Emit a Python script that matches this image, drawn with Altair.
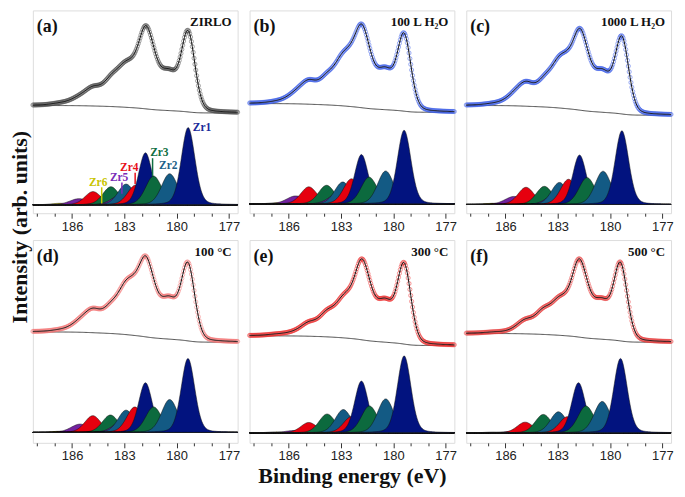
import altair as alt
import numpy as np
import pandas as pd

# ---------------- data ----------------
PANEL_TAGS = ["(a)", "(b)", "(c)", "(d)", "(e)", "(f)"]
SAMPLES = ["ZIRLO", "100 L H\u2082O", "1000 L H\u2082O", "100 \u00b0C", "300 \u00b0C", "500 \u00b0C"]
COMPONENTS = ["Zr1", "Zr2", "Zr3", "Zr4", "Zr5", "Zr6"]

# peak positions (eV) of the Zr 3d5/2 and 3d3/2 lines, panels a..f
POS_52 = {
    "Zr1": [179.34, 179.38, 179.32, 179.35, 179.38, 179.40],
    "Zr2": [180.40, 180.44, 180.40, 180.40, 180.44, 180.45],
    "Zr3": [181.32, 181.39, 181.32, 181.32, 181.37, 181.38],
    "Zr4": [182.35, 182.40, 182.38, 182.40, 182.40, 182.44],
    "Zr5": [183.18, 183.13, 183.09, 183.09, 183.10, 183.10],
    "Zr6": [184.30, 184.30, 184.30, 184.30, 184.30, 184.30],
}
POS_32 = {
    "Zr1": [181.79, 181.83, 181.75, 181.79, 181.83, 181.81],
    "Zr2": [182.90, 182.90, 182.90, 182.90, 182.87, 182.96],
    "Zr3": [183.77, 183.83, 183.77, 183.80, 183.80, 183.83],
    "Zr4": [184.80, 184.85, 184.82, 184.81, 184.85, 184.87],
    "Zr5": [185.60, 185.60, 185.50, 185.54, 185.69, 185.60],
    "Zr6": [186.70, 186.70, 186.70, 186.70, 186.70, 186.70],
}
# peak heights (arb. units)
HEIGHT_52 = {
    "Zr1": [79.6, 76.0, 76.0, 76.3, 79.4, 76.7],
    "Zr2": [32.0, 34.0, 34.3, 34.0, 35.0, 32.4],
    "Zr3": [29.6, 27.7, 27.7, 26.3, 27.7, 27.7],
    "Zr4": [20.3, 26.0, 26.0, 26.3, 16.7, 16.7],
    "Zr5": [10.3, 11.7, 11.0, 12.3, 3.4, 2.0],
    "Zr6": [2.0, 1.5, 1.5, 1.5, 1.0, 1.0],
}
HEIGHT_32 = {
    "Zr1": [53.6, 51.0, 51.0, 51.3, 53.4, 51.7],
    "Zr2": [21.3, 22.7, 22.7, 23.0, 24.0, 21.7],
    "Zr3": [18.6, 19.3, 18.7, 18.0, 19.4, 19.0],
    "Zr4": [13.6, 17.7, 17.7, 17.3, 10.7, 11.0],
    "Zr5": [6.3, 8.3, 8.3, 8.6, 2.4, 1.5],
    "Zr6": [1.5, 1.2, 1.2, 1.2, 1.0, 0.8],
}
FWHM = {"Zr1": 0.92, "Zr2": 1.1, "Zr3": 1.1, "Zr4": 1.1, "Zr5": 1.25, "Zr6": 1.2}
LORENTZ_FRACTION = 0.2   # Gaussian-Lorentzian peak shape of the fit

BASELINE = [8.7, 9.5, 9.0, 10.7, 10.3, 10.3]       # zero line of the components
BG_HIGH = [111.0, 113.0, 111.0, 114.3, 110.3, 112.7]  # background, high-BE side
BG_LOW = [103.3, 104.0, 101.0, 103.7, 100.3, 103.7]   # background, low-BE side

# component labels in panel (a)
LABEL_TEXT = ["Zr1", "Zr2", "Zr3", "Zr4", "Zr5", "Zr6"]
LABEL_E = [178.54, 180.48, 180.99, 182.72, 183.30, 184.50]
LABEL_Y = [87.5, 48.3, 62.0, 46.7, 36.5, 31.2]
MARKER_E = [181.38, 182.38, 183.14, 184.30]
MARKER_Y1 = [56.7, 41.7, 31.7, 26.7]
MARKER_Y2 = [38.3, 30.0, 20.0, 10.0]
MARKER_COMP = ["Zr3", "Zr4", "Zr5", "Zr6"]

# ---------------- styling ----------------
COLORS = {"Zr1": "#02137f", "Zr2": "#135a84", "Zr3": "#0c6a3e",
          "Zr4": "#e6000e", "Zr5": "#7222a0", "Zr6": "#cbc400"}
LABEL_COLORS = {"Zr1": "#1a2a9a", "Zr2": "#1c5f88", "Zr3": "#0f6e42",
                "Zr4": "#e8101a", "Zr5": "#7a2cb8", "Zr6": "#c8c400"}
POINT_COLORS = ["#505050", "#3d5ee8", "#3d5ee8", "#f47777", "#ee3030", "#e84040"]

W, H = 206, 204
SERIF = "Liberation Serif"
SANS = "Liberation Sans"

energy = np.round(np.arange(176.5, 188.25 + 1e-6, 0.05), 3)


def peak(center, height, fwhm):
    u = (energy - center) / fwhm
    gauss = np.exp(-4 * np.log(2) * u ** 2)
    lorentz = 1.0 / (1.0 + 4 * u ** 2)
    return height * ((1 - LORENTZ_FRACTION) * gauss + LORENTZ_FRACTION * lorentz)


xscale = alt.Scale(domain=[176.5, 188.25], reverse=True, nice=False, zero=False)
yscale = alt.Scale(domain=[0, 209], nice=False, zero=False)


def make_panel(i):
    base_y = BASELINE[i]
    cols = {}
    order = []
    total = np.zeros_like(energy)
    for comp in COMPONENTS:
        for lvl, pos, hgt in (("a", POS_52[comp][i], HEIGHT_52[comp][i]),
                              ("b", POS_32[comp][i], HEIGHT_32[comp][i])):
            g = peak(pos, hgt, FWHM[comp])
            total = total + g
            name = f"{comp}{lvl}"
            cols[name] = np.round(base_y + g, 3)
            order.append((pos, name, COLORS[comp]))
    cum = np.cumsum(total)
    bg = BG_LOW[i] + (BG_HIGH[i] - BG_LOW[i]) * cum / cum[-1]
    fit = bg + total
    df = pd.DataFrame({"E": energy, "base": base_y, "bg": np.round(bg, 3),
                       "fit": np.round(fit, 3), **cols})

    xtitle = "Binding energy (eV)" if i == 4 else None
    xaxis = alt.Axis(
        values=list(range(177, 189)),
        labelExpr="datum.value % 3 === 0 ? datum.label : ''",
        tickSize={"condition": {"test": "datum.value % 3 === 0", "value": 5}, "value": 3},
        title=xtitle, grid=False, domain=False,
        labelFont=SANS, labelFontSize=13, labelColor="#222", labelPadding=2,
        tickColor="#333", tickWidth=1,
        titleFont=SERIF, titleFontSize=22, titleFontWeight="bold", titleColor="#111",
        titlePadding=3,
    )
    if i == 0:
        yaxis = alt.Axis(title="Intensity (arb. units)", domain=False, ticks=False,
                         labels=False, grid=False, titleFont=SERIF, titleFontSize=22,
                         titleFontWeight="bold", titleColor="#111", titlePadding=1,
                         titleY=H + 13.5)
    else:
        yaxis = None

    def X(f="E"):
        return alt.X(f"{f}:Q", scale=xscale, axis=xaxis)

    def Y(f):
        return alt.Y(f"{f}:Q", scale=yscale, axis=yaxis)

    base = alt.Chart(df)
    order.sort(reverse=True)
    layers = []
    for pos, name, color in order:
        layers.append(base.mark_area(fill=color, stroke="#111", strokeWidth=0.5,
                                     fillOpacity=1).encode(x=X(), y=Y(name), y2=alt.Y2("base:Q")))
    layers.append(base.mark_line(color="#222", strokeWidth=0.8).encode(x=X(), y=Y("base")))
    layers.append(base.mark_line(color="#444", strokeWidth=1).encode(x=X(), y=Y("bg")))
    layers.append(base.mark_point(shape="circle", filled=False, size=17, strokeWidth=0.75,
                                  color=POINT_COLORS[i], opacity=0.7).encode(x=X(), y=Y("fit")))
    layers.append(base.mark_line(color="#111", strokeWidth=1).encode(x=X(), y=Y("fit")))

    if i == 0:
        lab = pd.DataFrame({"E": LABEL_E, "y": LABEL_Y, "t": LABEL_TEXT,
                            "c": [LABEL_COLORS[t] for t in LABEL_TEXT]})
        layers.append(alt.Chart(lab).mark_text(font=SERIF, fontSize=11.5, fontWeight="bold",
                                               baseline="middle", align="center").encode(
            x=X(), y=Y("y"), text="t:N", color=alt.Color("c:N", scale=None)))
        mk = pd.DataFrame({"E": MARKER_E, "y1": MARKER_Y1, "y2": MARKER_Y2,
                           "c": [LABEL_COLORS[t] for t in MARKER_COMP]})
        layers.append(alt.Chart(mk).mark_rule(strokeWidth=1.5).encode(
            x=X(), y=Y("y1"), y2=alt.Y2("y2:Q"), color=alt.Color("c:N", scale=None)))

    tag = pd.DataFrame({"t": [PANEL_TAGS[i]]})
    layers.append(alt.Chart(tag).mark_text(font=SERIF, fontSize=18, fontWeight="bold",
                                           align="left", baseline="middle", color="#111").encode(
        text="t:N", x=alt.value(4), y=alt.value(17)))
    smp = pd.DataFrame({"t": [SAMPLES[i]]})
    layers.append(alt.Chart(smp).mark_text(font=SERIF, fontSize=13, fontWeight="bold",
                                           align="right", baseline="middle", color="#111").encode(
        text="t:N", x=alt.value(W - 6), y=alt.value(12)))

    return alt.layer(*layers).properties(width=W, height=H)


panels = [make_panel(i) for i in range(6)]
chart = alt.concat(*panels, columns=3, spacing={"row": 27, "column": 12},
                   bounds="flush").properties(
    padding={"left": 0, "top": 0, "right": 1, "bottom": 0}
).configure_view(stroke="#8c8c8c", strokeWidth=1).configure(background="white")

chart.save("out.html", embed_options={"renderer": "svg", "actions": False})
